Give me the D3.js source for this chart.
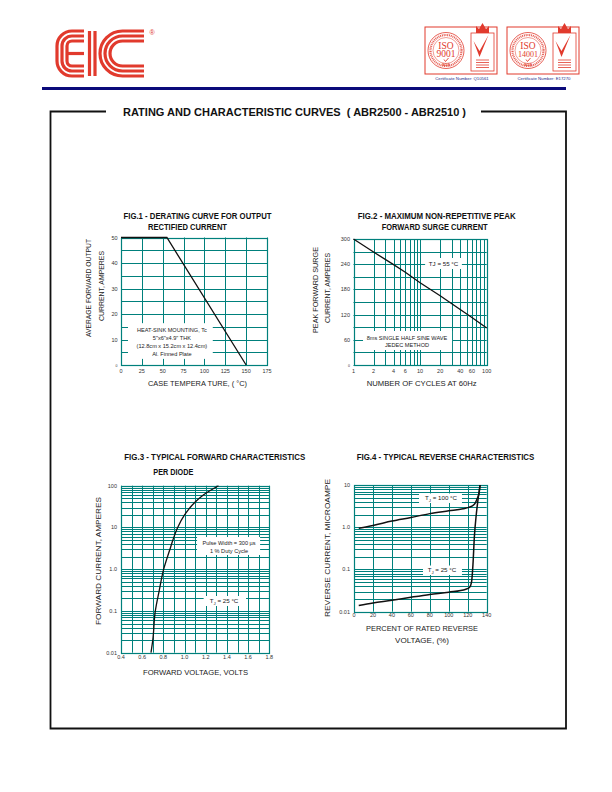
<!DOCTYPE html>
<html><head><meta charset="utf-8">
<script src="https://cdn.jsdelivr.net/npm/d3@7/dist/d3.min.js"></script>
<style>body{margin:0;background:#fff}svg{display:block}</style>
</head><body>
<script>
// ---------- DATA ----------
// Fig.1 derating curve
const fig1Temp = [0, 55, 150];
const fig1Current = [50, 50, 0];
const fig1XTicks = [0, 25, 50, 75, 100, 125, 150, 175];
const fig1YTicks = [0, 10, 20, 30, 40, 50];
const fig1GridY = [0, 5, 10, 15, 20, 25, 30, 35, 40, 45, 50];

// Fig.2 surge current
const fig2Cycles = [1, 2, 4, 6, 10, 20, 40, 60, 100];
const fig2Surge = [300, 269, 239, 221, 196, 165, 132, 113, 88];
const fig2XTicks = [1, 2, 4, 6, 10, 20, 40, 60, 100];
const fig2YTicks = [0, 60, 120, 180, 240, 300];
const fig2GridX = [1, 2, 3, 4, 5, 6, 7, 8, 9, 10, 20, 30, 40, 50, 60, 70, 80, 90, 100];
const fig2GridY = [0, 30, 60, 90, 120, 150, 180, 210, 240, 270, 300];

// Fig.3 forward characteristics
const fig3Volts = [0.683, 0.70, 0.724, 0.76, 0.803, 0.862, 0.89, 0.935, 1.0, 1.098, 1.177, 1.32];
const fig3Amps  = [0.01, 0.02, 0.1, 0.3, 1.0, 3, 5, 10, 20, 40, 60, 100];
const fig3XTicks = [0.4, 0.6, 0.8, 1.0, 1.2, 1.4, 1.6, 1.8];
const fig3XLabels = ["0.4", "0.6", "0.8", "1.0", "1.2", "1.4", "1.6", "1.8"];
const fig3GridX = [0.4, 0.5, 0.6, 0.7, 0.8, 0.9, 1.0, 1.1, 1.2, 1.3, 1.4, 1.5, 1.6, 1.7, 1.8];
const fig3YTicks = [0.01, 0.1, 1, 10, 100];
const fig3YLabels = ["0.01", "0.1", "1.0", "10", "100"];

// Fig.4 reverse characteristics
const fig4Pct100 = [5, 20, 40, 60, 80, 100, 115, 121, 127, 130, 132, 133];
const fig4Cur100 = [0.95, 1.1, 1.4, 1.7, 2.1, 2.45, 2.75, 2.95, 3.5, 4.8, 6.5, 10];
const fig4Pct25 = [5, 20, 40, 60, 80, 100, 118, 122, 124, 125.5, 127, 129, 131, 133];
const fig4Cur25 = [0.014, 0.016, 0.0186, 0.022, 0.0257, 0.029, 0.034, 0.038, 0.05, 0.13, 0.6, 2.0, 4.8, 10];
const fig4XTicks = [0, 20, 40, 60, 80, 100, 120, 140];
const fig4YTicks = [0.01, 0.1, 1, 10];
const fig4YLabels = ["0.01", "0.1", "1.0", "10"];

const multiples = [1, 2, 3, 4, 5, 6, 7, 8, 9];
const logGrid = (decades) => decades.flatMap(d => multiples.map(m => +(m * d).toPrecision(6))).concat([decades[decades.length - 1] * 10]);

// ---------- DRAWING ----------
const W = 612, H = 792;
const teal = "#00807c";
const red = "#e13a2d";
const FONT = "'Liberation Sans', Arial, Helvetica, sans-serif";
const NARROW = "'Liberation Sans Narrow', 'Liberation Sans', Arial, sans-serif";
const svg = d3.select("body").append("svg").attr("width", W).attr("height", H)
  .style("font-family", FONT);

svg.append("rect").attr("width", W).attr("height", H).attr("fill", "#fff");

function txt(g, s, x, y, o = {}) {
  const t = g.append("text").attr("x", x).attr("y", y).text(s)
    .attr("font-size", o.size || 6).attr("fill", o.fill || "#222")
    .attr("text-anchor", o.anchor || "middle");
  if (o.weight) t.attr("font-weight", o.weight);
  if (o.family) t.attr("font-family", o.family);
  if (o.len) t.attr("textLength", o.len).attr("lengthAdjust", "spacingAndGlyphs");
  return t;
}
function vtxt(g, s, cx, cy, o = {}) {
  const t = g.append("text").attr("transform", `translate(${cx + 3},${cy}) rotate(-90)`)
    .text(s).attr("font-size", o.size || 8).attr("fill", o.fill || "#222").attr("text-anchor", "middle");
  if (o.len) t.attr("textLength", o.len).attr("lengthAdjust", "spacingAndGlyphs");
  return t;
}

const px = v => Math.round(v) + 0.5;

function panel(cfg) {
  const g = svg.append("g");
  const x = cfg.x, y = cfg.y;
  const [xa, xb] = x.range();
  const [ya, yb] = y.range();
  g.selectAll(null).data(cfg.gridX).join("line")
    .attr("x1", d => px(x(d))).attr("x2", d => px(x(d)))
    .attr("y1", ya).attr("y2", yb).attr("stroke", teal).attr("stroke-width", 1);
  g.selectAll(null).data(cfg.gridY).join("line")
    .attr("y1", d => px(y(d))).attr("y2", d => px(y(d)))
    .attr("x1", xa).attr("x2", xb).attr("stroke", teal).attr("stroke-width", 1);
  g.append("rect").attr("x", px(xa)).attr("y", px(yb)).attr("width", Math.round(xb) - Math.round(xa))
    .attr("height", Math.round(ya) - Math.round(yb)).attr("fill", "none").attr("stroke", teal).attr("stroke-width", 1.2);

  // annotation boxes
  (cfg.notes || []).forEach(n => {
    const bx0 = x(n.box[0]), bx1 = x(n.box[1]), by0 = y(n.box[2]), by1 = y(n.box[3]);
    g.append("rect").attr("x", bx0).attr("y", by0).attr("width", bx1 - bx0).attr("height", by1 - by0).attr("fill", "#fff");
    n.lines.forEach(l => {
      const t = g.append("text").attr("x", x(n.cx)).attr("y", y(l.y)).attr("text-anchor", "middle")
        .attr("font-size", n.size || 5.6).attr("fill", "#222");
      if (l.sub) {
        t.append("tspan").text(l.sub[0]);
        t.append("tspan").text(l.sub[1]).attr("font-size", (n.size || 5.6) * 0.7).attr("dy", 1.5);
        t.append("tspan").text(l.sub[2]).attr("dy", -1.5);
      } else t.text(l.t);
    });
  });

  // curves
  cfg.series.forEach(s => {
    const line = d3.line().x(d => x(d[0])).y(d => y(d[1])).curve(s.curve || d3.curveLinear);
    g.append("path").datum(d3.zip(s.xs, s.ys)).attr("d", line)
      .attr("fill", "none").attr("stroke", s.color || "#111").attr("stroke-width", s.width || 1.3);
  });

  // tick labels
  cfg.xTicks.forEach((v, i) => txt(g, cfg.xLabels ? cfg.xLabels[i] : String(v), x(v), cfg.xLabelY, { size: 5.5, fill: "#333" }));
  cfg.yTicks.forEach((v, i) => {
    const lab = cfg.yLabels ? cfg.yLabels[i] : String(v);
    const small = cfg.smallZero && v === 0;
    txt(g, lab, cfg.yLabelX, y(v) + 2, { size: small ? 3.5 : 5.5, fill: "#333", anchor: "end" });
  });
  return g;
}

// ---------- HEADER ----------
const logo = svg.append("g").attr("fill", "none").attr("stroke", red).attr("stroke-width", 3.2);
[0, 5, 10].forEach(d => {
  const L = 57 + d, T = 31 + d, B = 76 - d, R = Math.max(15 - d, 3);
  logo.append("path").attr("d", `M84,${T}H${L + R}A${R},${R} 0 0 0 ${L},${T + R}V${B - R}A${R},${R} 0 0 0 ${L + R},${B}H84`);
});
logo.append("line").attr("x1", 67).attr("x2", 84).attr("y1", 53.5).attr("y2", 53.5);
[89.5, 95].forEach(xx => logo.append("line").attr("x1", xx).attr("x2", xx).attr("y1", 31).attr("y2", 76));
[0, 5, 10].forEach(d => {
  const L = 100 + d, T = 31 + d, B = 76 - d, R = 22.5 - d;
  logo.append("path").attr("d", `M144,${T}H${L + R}A${R},${R} 0 0 0 ${L + R},${B}H144`);
});
txt(svg, "®", 152, 35, { size: 7, fill: red });

function badge(bx, num, cert) {
  const g = svg.append("g");
  g.append("rect").attr("x", bx).attr("y", 27).attr("width", 72).attr("height", 47).attr("fill", "none").attr("stroke", red).attr("stroke-width", 1);
  g.append("circle").attr("cx", bx + 21).attr("cy", 50.5).attr("r", 18).attr("fill", "none").attr("stroke", red).attr("stroke-width", 0.8);
  g.append("circle").attr("cx", bx + 21).attr("cy", 50.5).attr("r", 13).attr("fill", "none").attr("stroke", red).attr("stroke-width", 0.5);
  g.append("circle").attr("cx", bx + 21).attr("cy", 50.5).attr("r", 15.5).attr("fill", "none").attr("stroke", red).attr("stroke-width", 2.2).attr("stroke-dasharray", "1 0.8").attr("opacity", 0.8);
  txt(g, "ISO", bx + 21, 48.5, { size: 9.5, fill: red, family: "'Liberation Serif', serif" });
  txt(g, num, bx + 21, 57, { size: num.length > 4 ? 8 : 9.5, fill: red, family: "'Liberation Serif', serif" });
  g.append("path").attr("d", `M${bx + 19},${59.5}l1.5,2l3,-3.5`).attr("fill", "none").attr("stroke", red).attr("stroke-width", 0.9);
  txt(g, "SGS", bx + 21, 66, { size: 3.8, fill: red, weight: "bold" });
  g.append("rect").attr("x", bx + 46).attr("y", 33).attr("width", 23).attr("height", 38).attr("fill", "#fff").attr("stroke", red).attr("stroke-width", 0.8);
  // crown
  g.append("path").attr("d", `M${bx + 51},${33}l0,-7l3,3l3.5,-6l3.5,6l3,-3l0,7z`).attr("fill", red);
  // tick mark
  g.append("path").attr("d", `M${bx + 48.5},${41}l6,10l9,-16l-9,22z`).attr("fill", red);
  [60, 62.5, 65, 67.5].forEach(yy => g.append("line").attr("x1", bx + 51).attr("x2", bx + 64).attr("y1", yy).attr("y2", yy).attr("stroke", red).attr("stroke-width", 0.8));
  txt(g, cert, bx + 37, 80, { size: 4.3, fill: "#1a2a8a" });
}
badge(425, "9001", "Certificate Number: Q10561");
badge(507, "14001", "Certificate Number: E17270");

svg.append("line").attr("x1", 42).attr("x2", 566).attr("y1", 88.5).attr("y2", 88.5).attr("stroke", "#0b0a7a").attr("stroke-width", 3);

// frame
const frame = svg.append("g").attr("fill", "none").attr("stroke", "#111").attr("stroke-width", 1.8);
frame.append("path").attr("d", "M106,111.5H50.5V728.5H566V111.5H481");
txt(svg, "RATING AND CHARACTERISTIC CURVES\u00a0\u00a0( ABR2500 - ABR2510 )", 294.5, 116, { size: 10.5, weight: "bold", fill: "#111", len: 343 });

// ---------- FIG 1 ----------
panel({
  x: d3.scaleLinear([0, 175], [121, 267]),
  y: d3.scaleLinear([0, 50], [365, 237.5]),
  gridX: fig1XTicks, gridY: fig1GridY,
  xTicks: fig1XTicks, xLabelY: 372.5,
  yTicks: fig1YTicks, yLabelX: 117.5, smallZero: true,
  notes: [{ cx: 61, box: [8.4, 110, 16.4, 2.4], lines: [
    { t: "HEAT-SINK MOUNTING, Tc", y: 13.1 }, { t: '5"x6"x4.9" THK', y: 10.0 },
    { t: "(12.8cm x 15.2cm x 12.4cm)", y: 6.7 }, { t: "Al. Finned Plate", y: 3.5 }] }],
  series: [{ xs: fig1Temp, ys: fig1Current }]
});
txt(svg, "FIG.1 - DERATING CURVE FOR OUTPUT", 197.5, 218.5, { size: 9.5, weight: "bold", fill: "#111", family: NARROW, len: 148 });
txt(svg, "RECTIFIED CURRENT", 187.5, 229.5, { size: 9.5, weight: "bold", fill: "#111", family: NARROW, len: 79 });
vtxt(svg, "AVERAGE FORWARD OUTPUT", 88.3, 288, { len: 98 });
vtxt(svg, "CURRENT, AMPERES", 101, 286, { len: 70 });
txt(svg, "CASE TEMPERA TURE, ( °C)", 197.5, 385.5, { size: 8, len: 99 });

// ---------- FIG 2 ----------
panel({
  x: d3.scaleLog([1, 100], [353.5, 486.7]),
  y: d3.scaleLinear([0, 300], [365, 239]),
  gridX: fig2GridX, gridY: fig2GridY,
  xTicks: fig2XTicks, xLabelY: 372.5,
  yTicks: fig2YTicks, yLabelX: 350, smallZero: true,
  notes: [
    { cx: 22.5, box: [11.9, 42.4, 254.8, 228.6], size: 6.2, lines: [{ t: "TJ = 55 °C", y: 236.9 }] },
    { cx: 6.35, box: [1.39, 30.2, 81, 35.7], lines: [{ t: "8ms SINGLE HALF SINE WAVE", y: 60.7 }, { t: "JEDEC METHOD", y: 41.7 }] }],
  series: [{ xs: fig2Cycles, ys: fig2Surge }]
});
txt(svg, "FIG.2 - MAXIMUM NON-REPETITIVE PEAK", 357.7, 218.5, { size: 9.5, weight: "bold", fill: "#111", family: NARROW, anchor: "start", len: 158 });
txt(svg, "FORWARD SURGE CURRENT", 434.7, 229.5, { size: 9.5, weight: "bold", fill: "#111", family: NARROW, len: 106 });
vtxt(svg, "PEAK FORWARD SURGE", 315, 290, { len: 86 });
vtxt(svg, "CURRENT, AMPERES", 326.7, 288, { len: 70 });
txt(svg, "NUMBER OF CYCLES AT 60Hz", 421.7, 385.5, { size: 8, len: 110 });

// ---------- FIG 3 ----------
panel({
  x: d3.scaleLinear([0.4, 1.8], [121, 269.3]),
  y: d3.scaleLog([0.01, 100], [652.7, 485.7]),
  gridX: fig3GridX, gridY: logGrid([0.01, 0.1, 1, 10]),
  xTicks: fig3XTicks, xLabels: fig3XLabels, xLabelY: 658.5,
  yTicks: fig3YTicks, yLabels: fig3YLabels, yLabelX: 117,
  notes: [
    { cx: 1.42, box: [1.118, 1.713, 5.9, 2.19], lines: [{ t: "Pulse Width = 300 µs", y: 3.8 }, { t: "1 % Duty Cycle", y: 2.44 }] },
    { cx: 1.373, box: [1.18, 1.58, 0.228, 0.1315], size: 6.2, lines: [{ sub: ["T", "J", " = 25 °C"], y: 0.155 }] }],
  series: [{ xs: fig3Volts, ys: fig3Amps, curve: d3.curveMonotoneY }]
});
txt(svg, "FIG.3 - TYPICAL FORWARD CHARACTERISTICS", 124.3, 460, { size: 9.5, weight: "bold", fill: "#111", family: NARROW, anchor: "start", len: 181 });
txt(svg, "PER DIODE", 153.3, 474.5, { size: 9.5, weight: "bold", fill: "#111", family: NARROW, anchor: "start", len: 40 });
vtxt(svg, "FORWARD CURRENT, AMPERES", 98.3, 561, { len: 128 });
txt(svg, "FORWARD VOLTAGE, VOLTS", 195.5, 674.5, { size: 8, len: 105 });

// ---------- FIG 4 ----------
panel({
  x: d3.scaleLinear([0, 140], [354, 486.7]),
  y: d3.scaleLog([0.01, 10], [611.7, 485]),
  gridX: fig4XTicks, gridY: logGrid([0.01, 0.1, 1]),
  xTicks: fig4XTicks, xLabelY: 617,
  yTicks: fig4YTicks, yLabels: fig4YLabels, yLabelX: 350,
  notes: [
    { cx: 91.8, box: [68.6, 113.9, 6.3, 3.75], size: 6.2, lines: [{ sub: ["T", "J", " = 100 °C"], y: 4.3 }] },
    { cx: 92.8, box: [72.8, 113.9, 0.124, 0.074], size: 6.2, lines: [{ sub: ["T", "J", " = 25 °C"], y: 0.0857 }] }],
  series: [
    { xs: fig4Pct100, ys: fig4Cur100, curve: d3.curveMonotoneX, width: 1.5 },
    { xs: fig4Pct25, ys: fig4Cur25, curve: d3.curveMonotoneX, width: 1.5 }]
});
txt(svg, "FIG.4 - TYPICAL REVERSE CHARACTERISTICS", 356.7, 460, { size: 9.5, weight: "bold", fill: "#111", family: NARROW, anchor: "start", len: 177.6 });
vtxt(svg, "REVERSE CURRENT, MICROAMPE", 327.3, 548, { len: 138 });
txt(svg, "PERCENT OF RATED REVERSE", 422, 631, { size: 8, len: 112 });
txt(svg, "VOLTAGE, (%)", 422, 643, { size: 8, len: 54 });
</script>
</body></html>
